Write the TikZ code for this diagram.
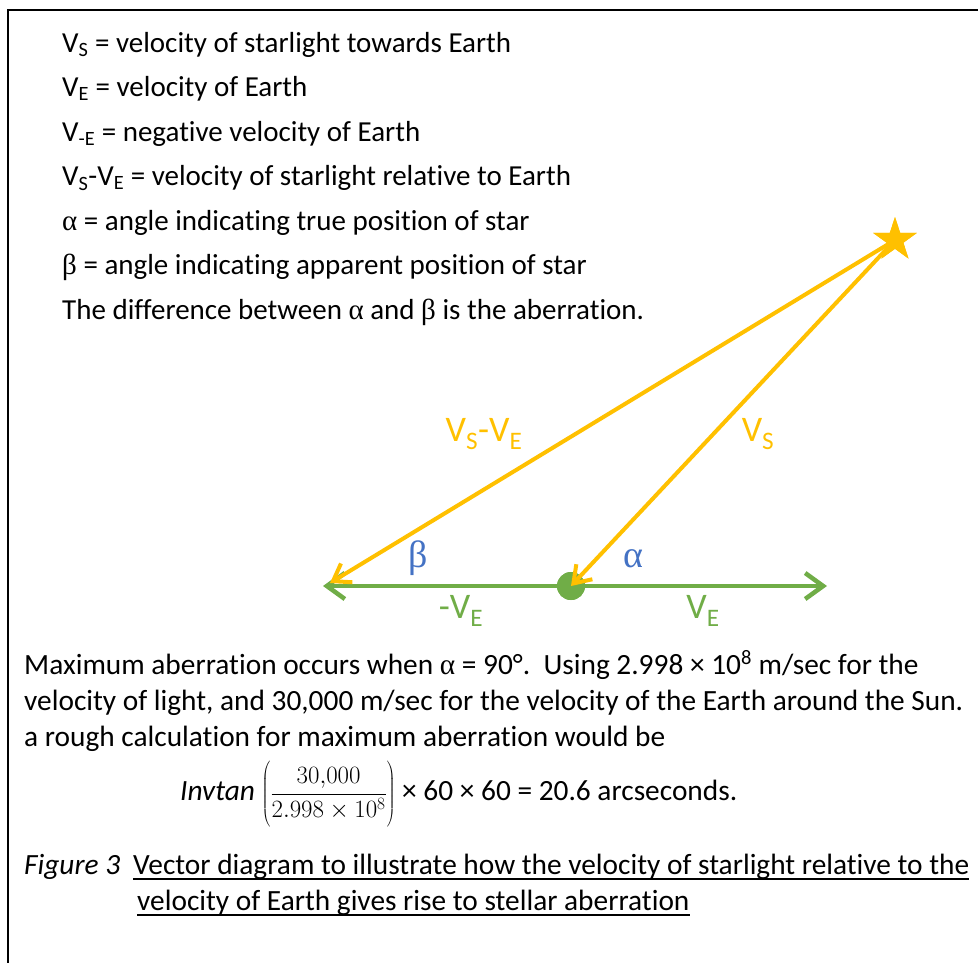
\documentclass[tikz,border=0pt]{standalone}
\usepackage{fontspec}
\setmainfont{Carlito}[Ligatures=NoCommon]
\newfontfamily\grk{Liberation Serif}
\usetikzlibrary{arrows.meta,shapes.geometric}
\definecolor{sy}{HTML}{FFC000}
\definecolor{sg}{HTML}{70AD47}
\definecolor{sb}{HTML}{4472C4}
\begin{document}
\begin{tikzpicture}[x=1pt,y=-1pt,
  txt/.style={anchor=base west,inner sep=0pt,font=\fontsize{29}{35}\selectfont},
  ptxt/.style={anchor=base west,inner sep=0pt,font=\fontsize{29.35}{35}\selectfont},
  lbl/.style={inner sep=0pt,font=\fontsize{36}{40}\selectfont},
  glbl/.style={inner sep=0pt,text=sb,font=\fontsize{38}{42}\selectfont\grk},
  yarrow/.style={draw=sy,line width=4pt,-{Straight Barb[length=16pt,width=22pt]}},
  garrow/.style={draw=sg,line width=4.5pt,-{Straight Barb[length=18pt,width=26pt]}},
  uline/.style={line width=2pt}
]
\useasboundingbox (0,0) rectangle (978,962);
\draw[line width=2pt] (8,963) -- (8,10) -- (979,10);

% definitions
\node[txt] (t1) at (62,52) {V\textsubscript{S} = velocity of starlight towards Earth};
\node[txt] (t2) at (62,96.5) {V\textsubscript{E} = velocity of Earth};
\node[txt] (t3) at (62,141) {V\textsubscript{-E} = negative velocity of Earth};
\node[txt] (t4) at (62,185.5) {V\textsubscript{S}-V\textsubscript{E} = velocity of starlight relative to Earth};
\node[txt] (t5) at (62,230) {{\grk α} = angle indicating true position of star};
\node[txt] (t6) at (62,274.5) {{\grk β} = angle indicating apparent position of star};
\node[txt] (t7) at (62,319) {The difference between {\grk α} and {\grk β} is the aberration.};

% diagram
\coordinate (gL) at (323,586);
\coordinate (gR) at (827,586);
\coordinate (yL) at (330,583);
\node[circle,fill=sg,minimum size=28pt,inner sep=0pt] (earth) at (571,586) {};
\draw[garrow] (earth.center) -- (gL);
\draw[garrow] (earth.center) -- (gR);
\node[circle,fill=sg,minimum size=28pt,inner sep=0pt] at (earth.center) {};
\node[star,star points=5,star point ratio=2.618,fill=sy,inner sep=0pt,minimum size=46pt] (star) at (895,240) {};
\draw[yarrow] (star.center) -- (yL);
\draw[yarrow] (star.center) -- (earth.center);
\node[star,star points=5,star point ratio=2.618,fill=sy,inner sep=0pt,minimum size=46pt] at (star.center) {};

\node[lbl,text=sy] (lvsve) at (484,434) {V\textsubscript{S}-V\textsubscript{E}};
\node[lbl,text=sy] (lvs) at (758,434) {V\textsubscript{S}};
\node[glbl] (lb) at (418,558) {β};
\node[glbl] (la) at (633,559) {α};
\node[lbl,text=sg] (lmve) at (461,611) {-V\textsubscript{E}};
\node[lbl,text=sg] (lve) at (703,611) {V\textsubscript{E}};

% paragraph
\node[ptxt] (p1) at (24,674) {Maximum aberration occurs when {\grk α} = 90°.\ \ Using 2.998 × 10\textsuperscript{8} m/sec for the};
\node[ptxt] (p2) at (24,710) {velocity of light, and 30,000 m/sec for the velocity of the Earth around the Sun.};
\node[ptxt] (p3) at (24,746) {a rough calculation for maximum aberration would be};
\node[ptxt] (f) at (180,800) {\itshape Invtan \upshape{\fontsize{24}{28}\selectfont$\left(\vcenter{\hbox{\rule{0pt}{68pt}}}\displaystyle\frac{30{,}000}{2.998\times10^{8}}\right)$} × 60 × 60 = 20.6 arcseconds.};

% caption
\node[ptxt] (c0) at (24,874) {\itshape Figure 3};
\node[ptxt] (c1) at (133,874) {Vector diagram to illustrate how the velocity of starlight relative to the};
\node[ptxt] (c2) at (137,910) {velocity of Earth gives rise to stellar aberration};
\draw[uline] ([yshift=-5pt]c1.base west) -- ([yshift=-5pt]c1.base east);
\draw[uline] ([yshift=-5pt]c2.base west) -- ([yshift=-5pt]c2.base east);
\end{tikzpicture}
\end{document}
